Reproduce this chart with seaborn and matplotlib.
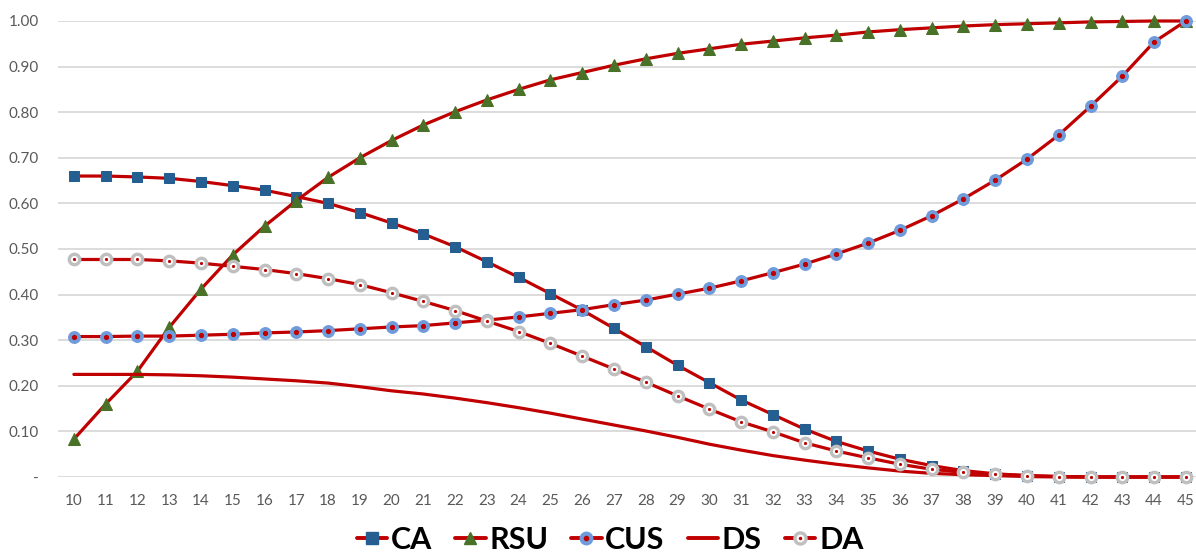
import numpy as np
import pandas as pd
import matplotlib
matplotlib.use("Agg")
import matplotlib.pyplot as plt
import seaborn as sns
from matplotlib.lines import Line2D

ages = list(range(10, 46))

CA = [0.660, 0.660, 0.658, 0.655, 0.648, 0.639, 0.629, 0.615, 0.600, 0.580,
      0.557, 0.533, 0.505, 0.472, 0.438, 0.402, 0.366, 0.326, 0.286, 0.245,
      0.207, 0.169, 0.137, 0.105, 0.078, 0.057, 0.039, 0.025, 0.014, 0.007,
      0.003, 0.001, 0.000, 0.000, 0.000, 0.000]
RSU = [0.083, 0.160, 0.232, 0.328, 0.412, 0.487, 0.550, 0.606, 0.657, 0.700,
       0.738, 0.772, 0.801, 0.827, 0.850, 0.871, 0.887, 0.903, 0.917, 0.929,
       0.939, 0.949, 0.956, 0.963, 0.969, 0.976, 0.981, 0.985, 0.989, 0.992,
       0.994, 0.996, 0.998, 0.999, 1.000, 1.000]
CUS = [0.308, 0.308, 0.309, 0.309, 0.311, 0.313, 0.316, 0.318, 0.321, 0.325,
       0.329, 0.332, 0.338, 0.344, 0.351, 0.359, 0.367, 0.378, 0.388, 0.401,
       0.414, 0.430, 0.448, 0.467, 0.489, 0.513, 0.541, 0.573, 0.610, 0.651,
       0.697, 0.750, 0.813, 0.879, 0.954, 1.000]
DS = [0.225, 0.225, 0.225, 0.224, 0.222, 0.219, 0.215, 0.211, 0.206, 0.198,
      0.189, 0.182, 0.173, 0.163, 0.152, 0.140, 0.127, 0.114, 0.101, 0.087,
      0.072, 0.059, 0.047, 0.037, 0.028, 0.020, 0.013, 0.008, 0.005, 0.003,
      0.001, 0.000, 0.000, 0.000, 0.000, 0.000]
DA = [0.477, 0.477, 0.477, 0.474, 0.469, 0.462, 0.455, 0.446, 0.435, 0.422,
      0.404, 0.385, 0.365, 0.342, 0.319, 0.293, 0.265, 0.237, 0.208, 0.178,
      0.149, 0.121, 0.099, 0.075, 0.057, 0.042, 0.028, 0.017, 0.010, 0.006,
      0.003, 0.001, 0.000, 0.000, 0.000, 0.000]

y_ticks = [0.0, 0.1, 0.2, 0.3, 0.4, 0.5, 0.6, 0.7, 0.8, 0.9, 1.0]
y_labels = ["-", "0.10", "0.20", "0.30", "0.40", "0.50", "0.60", "0.70", "0.80", "0.90", "1.00"]

df = pd.DataFrame({"age": ages, "CA": CA, "RSU": RSU, "CUS": CUS, "DS": DS, "DA": DA})

sns.set_style("white")
plt.rcParams["font.family"] = ["Lato", "DejaVu Sans"]

fig = plt.figure(figsize=(11.96, 5.58), dpi=100)
ax = fig.add_axes([58/1196, 1-477/558, 1-58/1196, (477-21)/558])

RED = "#C00000"
LW = 2.3

sns.lineplot(data=df, x="age", y="CA", ax=ax, color=RED, linewidth=LW, marker="s",
             markersize=7.5, markerfacecolor="#255E91", markeredgecolor="#255E91", zorder=3)
sns.lineplot(data=df, x="age", y="RSU", ax=ax, color=RED, linewidth=LW, marker="^",
             markersize=8.5, markerfacecolor="#4A7128", markeredgecolor="#4A7128", zorder=4)
sns.lineplot(data=df, x="age", y="CUS", ax=ax, color=RED, linewidth=LW, marker="o",
             markersize=8.5, markerfacecolor="#6F9BDB", markeredgecolor="#6F9BDB", zorder=5)
sns.lineplot(data=df, x="age", y="CUS", ax=ax, color=RED, linewidth=0, marker="o",
             markersize=3, markerfacecolor=RED, markeredgecolor=RED, zorder=5.5)
sns.lineplot(data=df, x="age", y="DS", ax=ax, color=RED, linewidth=LW, zorder=6)
sns.lineplot(data=df, x="age", y="DA", ax=ax, color=RED, linewidth=LW, marker="o",
             markersize=7.5, markerfacecolor="white", markeredgecolor="#BFBFBF",
             markeredgewidth=2.4, zorder=7)
sns.lineplot(data=df, x="age", y="DA", ax=ax, color=RED, linewidth=0, marker="o",
             markersize=1.5, markerfacecolor=RED, markeredgecolor=RED, zorder=7.5)

ax.set_xlim(9.5, 45.32)
ax.set_ylim(0, 1.0)
ax.set_xticks(ages)
ax.set_xticklabels([str(a) for a in ages])
ax.set_yticks(y_ticks)
ax.set_yticklabels(y_labels)
ax.set_xlabel("")
ax.set_ylabel("")
ax.grid(axis="y", color="#D9D9D9", linewidth=1.3, zorder=0)
ax.set_axisbelow(True)
for s in ax.spines.values():
    s.set_visible(False)
ax.tick_params(axis="both", length=0, labelsize=11, labelcolor="#595959")
ax.tick_params(axis="x", pad=12)
ax.tick_params(axis="y", pad=14)
for ln in ax.lines:
    ln.set_clip_on(False)

def h(**kw):
    return Line2D([0], [0], color=RED, linewidth=LW + 0.5, **kw)

handles = [
    h(marker="s", markersize=8, markerfacecolor="#255E91", markeredgecolor="#255E91"),
    h(marker="^", markersize=9, markerfacecolor="#4A7128", markeredgecolor="#4A7128"),
    (h(marker="o", markersize=9, markerfacecolor="#6F9BDB", markeredgecolor="#6F9BDB"),
     Line2D([0], [0], linewidth=0, marker="o", markersize=3, markerfacecolor=RED, markeredgecolor=RED)),
    h(),
    (h(marker="o", markersize=8, markerfacecolor="white", markeredgecolor="#BFBFBF", markeredgewidth=2.4),
     Line2D([0], [0], linewidth=0, marker="o", markersize=1.5, markerfacecolor=RED, markeredgecolor=RED)),
]
labels = ["CA", "RSU", "CUS", "DS", "DA"]
fig.legend(handles, labels, loc="center", bbox_to_anchor=(610/1196, 1-540/558), ncol=5,
           frameon=False, handlelength=1.0, handletextpad=0.12, columnspacing=0.75,
           labelcolor="black",
           prop={"family": "Lato", "weight": "bold", "size": 22})

fig.savefig("out.png", dpi=100)
